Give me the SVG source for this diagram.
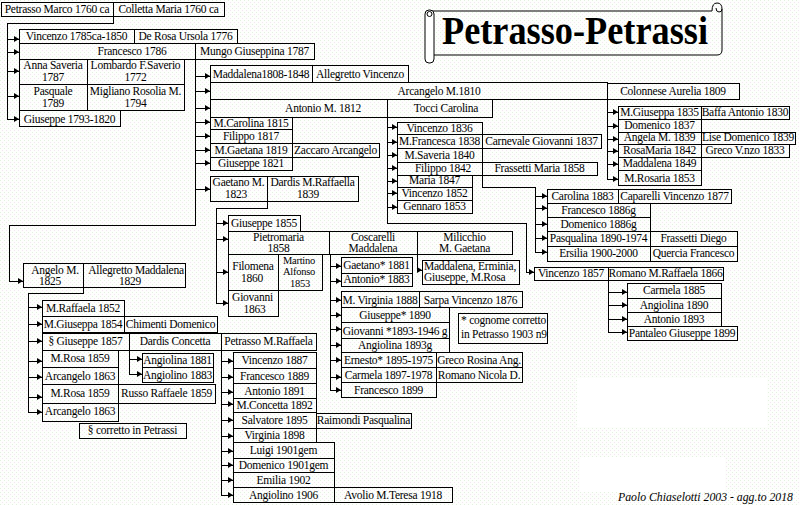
<svg xmlns="http://www.w3.org/2000/svg" width="800" height="505" viewBox="0 0 800 505">
<defs>
<style>
.b{fill:none;stroke:#000;stroke-width:1;shape-rendering:crispEdges}
.t{font-family:"Liberation Serif","Times New Roman",serif;font-size:11.5px;letter-spacing:-0.25px;text-anchor:middle;fill:#000}
.s{font-size:10.5px}
.l{text-anchor:start}
#connectors path{fill:none;stroke:#000;stroke-width:1;shape-rendering:crispEdges}
.a{marker-end:url(#ah)}
</style>
<pattern id="bg" width="4" height="4" patternUnits="userSpaceOnUse">
<rect width="4" height="4" fill="#fdfefc"/>
<rect x="0" y="0" width="1" height="1" fill="#e3f1df"/>
<rect x="2" y="2" width="1" height="1" fill="#f3e6f2"/>
</pattern>
<marker id="ah" markerWidth="6" markerHeight="6" refX="5" refY="3" orient="auto" markerUnits="userSpaceOnUse">
<path d="M0,0 L5,3 L0,6 z" fill="#000"/>
</marker>
</defs>
<rect width="800" height="505" fill="url(#bg)"/>
<rect x="577" y="378" width="190" height="49" fill="#fff"/>
<rect x="580" y="457" width="145" height="35" fill="#fff"/>

<g id="title">
<path d="M430,11 H712 M722,9 V50 Q722,55 717,55 H434" fill="none" stroke="#000"/>
<rect x="425" y="10" width="9" height="53" rx="4" fill="#fff" stroke="#000"/>
<circle cx="429.5" cy="14" r="2.5" fill="none" stroke="#000"/>
<path d="M712,11 Q712,3 717,3 Q722,3 722,9 Q722,12 719,12 Q716,12 716,8" fill="none" stroke="#000"/>
<text x="442" y="44" textLength="266" lengthAdjust="spacingAndGlyphs" style="font-family:'Liberation Serif',serif;font-size:40px;font-weight:bold">Petrasso-Petrassi</text>
</g>

<g id="connectors">
<path class="a" d="M113,16V23H7V119H19"/>
<path class="a" d="M7,39H19"/><path class="a" d="M7,52H19"/><path class="a" d="M7,71H19"/><path class="a" d="M7,96H19"/>
<path class="a" d="M195,59V225H9V281H23"/>
<path class="a" d="M195,76H210"/><path class="a" d="M195,91H210"/><path class="a" d="M195,108H210"/><path class="a" d="M195,122H210"/><path class="a" d="M195,136H210"/><path class="a" d="M195,150H210"/><path class="a" d="M195,163H210"/><path class="a" d="M195,189H210"/>
<path class="a" d="M607,99V179H618"/>
<path class="a" d="M607,112H618"/><path class="a" d="M607,126H618"/><path class="a" d="M607,139H618"/><path class="a" d="M607,151H618"/><path class="a" d="M607,164H618"/>
<path class="a" d="M387,117V223H526V272H534"/>
<path class="a" d="M387,127H397"/><path class="a" d="M387,142H397"/><path class="a" d="M387,155H397"/><path class="a" d="M387,168H397"/><path class="a" d="M387,181H397"/><path class="a" d="M387,193H397"/><path class="a" d="M387,207H397"/>
<path class="a" d="M482,175V187H535V252H547"/>
<path class="a" d="M535,196H547"/><path class="a" d="M535,208H547"/><path class="a" d="M535,224H547"/><path class="a" d="M535,238H547"/>
<path class="a" d="M608,280V332H627"/>
<path class="a" d="M608,292H627"/><path class="a" d="M608,305H627"/><path class="a" d="M608,319H627"/>
<path class="a" d="M267,201V208H216V303H228"/>
<path class="a" d="M216,223H228"/><path class="a" d="M216,239H228"/><path class="a" d="M216,272H228"/>
<path class="a" d="M330,254V390H341"/>
<path class="a" d="M330,266H341"/><path class="a" d="M330,281H341"/><path class="a" d="M330,300H341"/><path class="a" d="M330,315H341"/><path class="a" d="M330,329H341"/><path class="a" d="M330,345H341"/><path class="a" d="M330,360H341"/><path class="a" d="M330,377H341"/>
<path class="a" d="M417,254V270H422"/>
<path class="a" d="M83,287V293H28V412H42"/>
<path class="a" d="M28,307H42"/><path class="a" d="M28,324H42"/><path class="a" d="M28,341H42"/><path class="a" d="M28,361H42"/><path class="a" d="M28,377H42"/><path class="a" d="M28,397H42"/>
<path class="a" d="M129,350V374H142"/>
<path class="a" d="M129,359H142"/>
<path class="a" d="M221,350V495H233"/>
<path class="a" d="M221,361H233"/><path class="a" d="M221,377H233"/><path class="a" d="M221,392H233"/><path class="a" d="M221,404H233"/><path class="a" d="M221,420H233"/><path class="a" d="M221,436H233"/><path class="a" d="M221,451H233"/><path class="a" d="M221,465H233"/><path class="a" d="M221,480H233"/>
</g>

<g id="n-marco"><rect class="b" x="1" y="2" width="112" height="14"/><text class="t" x="57" y="13">Petrasso Marco 1760 ca</text></g>
<g id="n-colletta"><rect class="b" x="113" y="2" width="111" height="14"/><text class="t" x="168.5" y="13">Colletta Maria 1760 ca</text></g>
<g id="n-vincenzo1785"><rect class="b" x="19" y="29" width="115" height="14"/><text class="t" x="76.5" y="40">Vincenzo 1785ca-1850</text></g>
<g id="n-derosa"><rect class="b" x="134" y="29" width="103" height="14"/><text class="t" x="185.5" y="40">De Rosa Ursola 1776</text></g>
<g id="n-francesco1786"><rect class="b" x="19" y="43" width="176" height="16"/><text class="t" x="132" y="55">Francesco 1786</text></g>
<g id="n-mungo"><rect class="b" x="195" y="43" width="119" height="16"/><text class="t" x="254.5" y="55">Mungo Giuseppina 1787</text></g>
<g id="n-anna"><rect class="b" x="19" y="59" width="68" height="25"/><text class="t"><tspan x="53" y="69">Anna Saveria</tspan><tspan x="53" y="81">1787</tspan></text></g>
<g id="n-lombardo"><rect class="b" x="87" y="59" width="97" height="25"/><text class="t"><tspan x="135.5" y="69">Lombardo F.Saverio</tspan><tspan x="135.5" y="81">1772</tspan></text></g>
<g id="n-pasquale"><rect class="b" x="19" y="84" width="68" height="26"/><text class="t"><tspan x="53" y="95">Pasquale</tspan><tspan x="53" y="107">1789</tspan></text></g>
<g id="n-migliano"><rect class="b" x="87" y="84" width="97" height="26"/><text class="t"><tspan x="135.5" y="95">Migliano Rosolia M.</tspan><tspan x="135.5" y="107">1794</tspan></text></g>
<g id="n-giuseppe1793"><rect class="b" x="19" y="110" width="101" height="16"/><text class="t" x="69.5" y="123">Giuseppe 1793-1820</text></g>

<g id="n-maddalena1808"><rect class="b" x="210" y="65" width="102" height="17"/><text class="t" x="261" y="78">Maddalena1808-1848</text></g>
<g id="n-allegretto-v"><rect class="b" x="312" y="65" width="96" height="17"/><text class="t" x="360" y="78">Allegretto Vincenzo</text></g>
<g id="n-arcangelo1810"><rect class="b" x="210" y="82" width="397" height="17"/><text class="t" x="439" y="95">Arcangelo M.1810</text></g>
<g id="n-colonnese"><rect class="b" x="607" y="83" width="132" height="16"/><text class="t" x="673" y="95">Colonnese Aurelia 1809</text></g>
<g id="n-antonio1812"><rect class="b" x="210" y="99" width="177" height="18"/><text class="t" x="323" y="112">Antonio M. 1812</text></g>
<g id="n-tocci"><rect class="b" x="387" y="99" width="105" height="18"/><text class="t" x="446" y="112">Tocci Carolina</text></g>
<g id="n-mcarolina"><rect class="b" x="210" y="117" width="82" height="12"/><text class="t" x="251" y="127">M.Carolina 1815</text></g>
<g id="n-filippo1817"><rect class="b" x="210" y="129" width="82" height="14"/><text class="t" x="251" y="140">Filippo 1817</text></g>
<g id="n-mgaetana1819"><rect class="b" x="210" y="143" width="82" height="14"/><text class="t" x="251" y="154">M.Gaetana 1819</text></g>
<g id="n-zaccaro"><rect class="b" x="292" y="143" width="87" height="14"/><text class="t" x="335.5" y="154">Zaccaro Arcangelo</text></g>
<g id="n-giuseppe1821"><rect class="b" x="210" y="157" width="82" height="13"/><text class="t" x="251" y="167">Giuseppe 1821</text></g>
<g id="n-gaetano1823"><rect class="b" x="210" y="176" width="57" height="25"/><text class="t"><tspan x="238.5" y="186">Gaetano M.</tspan><tspan x="236" y="198">1823</tspan></text></g>
<g id="n-dardis-mr"><rect class="b" x="267" y="176" width="91" height="25"/><text class="t"><tspan x="312.5" y="186">Dardis M.Raffaella</tspan><tspan x="308" y="198">1839</tspan></text></g>

<g id="n-giuseppe1855"><rect class="b" x="228" y="215" width="72" height="16"/><text class="t" x="264" y="227">Giuseppe 1855</text></g>
<g id="n-pietromaria"><rect class="b" x="228" y="231" width="101" height="23"/><text class="t"><tspan x="278.5" y="241">Pietromaria</tspan><tspan x="278.5" y="252">1858</tspan></text></g>
<g id="n-coscarelli"><rect class="b" x="329" y="231" width="88" height="23"/><text class="t"><tspan x="373" y="241">Coscarelli</tspan><tspan x="373" y="252">Maddalena</tspan></text></g>
<g id="n-milicchio"><rect class="b" x="417" y="231" width="95" height="23"/><text class="t"><tspan x="464.5" y="241">Milicchio</tspan><tspan x="464.5" y="252">M. Gaetana</tspan></text></g>
<g id="n-filomena"><rect class="b" x="228" y="254" width="50" height="36"/><text class="t"><tspan x="253" y="270">Filomena</tspan><tspan x="252" y="282">1860</tspan></text></g>
<g id="n-martino"><rect class="b" x="278" y="254" width="44" height="36"/><text class="t s"><tspan x="299" y="264">Martino</tspan><tspan x="299" y="275">Alfonso</tspan><tspan x="300" y="287">1853</tspan></text></g>
<g id="n-giovanni1863"><rect class="b" x="228" y="290" width="50" height="26"/><text class="t"><tspan x="252.5" y="301">Giovanni</tspan><tspan x="254.5" y="313">1863</tspan></text></g>
<g id="n-gaetano1881"><rect class="b" x="341" y="257" width="71" height="16"/><text class="t" x="376.5" y="269">Gaetano* 1881</text></g>
<g id="n-antonio1883"><rect class="b" x="341" y="273" width="71" height="13"/><text class="t" x="376.5" y="283">Antonio* 1883</text></g>
<g id="n-maddalena-erminia"><rect class="b" x="422" y="260" width="97" height="24"/><text class="t l"><tspan x="424" y="270">Maddalena, Erminia,</tspan><tspan x="424" y="281">Giuseppe, M.Rosa</tspan></text></g>
<g id="n-mvirginia"><rect class="b" x="341" y="291" width="78" height="16"/><text class="t" x="380" y="304">M. Virginia 1888</text></g>
<g id="n-sarpa"><rect class="b" x="419" y="291" width="103" height="16"/><text class="t" x="470.5" y="304">Sarpa Vincenzo 1876</text></g>
<g id="n-giuseppe1890"><rect class="b" x="341" y="307" width="108" height="15"/><text class="t" x="395" y="319">Giuseppe* 1890</text></g>
<g id="n-giovanni1893"><rect class="b" x="341" y="322" width="108" height="16"/><text class="t" x="395" y="335">Giovanni *1893-1946 g</text></g>
<g id="n-angiolina1893"><rect class="b" x="341" y="338" width="108" height="14"/><text class="t" x="395" y="349">Angiolina 1893g</text></g>
<g id="n-ernesto"><rect class="b" x="341" y="352" width="95" height="15"/><text class="t" x="388.5" y="364">Ernesto* 1895-1975</text></g>
<g id="n-greco-rosina"><rect class="b" x="436" y="352" width="86" height="15"/><text class="t" x="479" y="364">Greco Rosina Ang.</text></g>
<g id="n-carmela1897"><rect class="b" x="341" y="367" width="95" height="15"/><text class="t" x="388.5" y="379">Carmela 1897-1978</text></g>
<g id="n-romano-nicola"><rect class="b" x="436" y="367" width="86" height="15"/><text class="t" x="479" y="379">Romano Nicola D.</text></g>
<g id="n-francesco1899"><rect class="b" x="341" y="382" width="95" height="15"/><text class="t" x="388.5" y="394">Francesco 1899</text></g>
<g id="n-note-cognome"><rect class="b" x="458" y="313" width="89" height="30"/><text class="t l"><tspan x="461" y="324">* cognome corretto</tspan><tspan x="461" y="338">in Petrasso 1903 n9</tspan></text></g>

<g id="n-angelo"><rect class="b" x="23" y="263" width="60" height="24"/><text class="t"><tspan x="55" y="274">Angelo M.</tspan><tspan x="50" y="285">1825</tspan></text></g>
<g id="n-allegretto-m"><rect class="b" x="83" y="263" width="102" height="24"/><text class="t"><tspan x="136" y="274">Allegretto Maddalena</tspan><tspan x="130" y="285">1829</tspan></text></g>
<g id="n-mraffaela1852"><rect class="b" x="42" y="300" width="82" height="16"/><text class="t" x="83" y="312">M.Raffaela 1852</text></g>
<g id="n-mgiuseppa1854"><rect class="b" x="42" y="316" width="82" height="16"/><text class="t" x="83" y="328">M.Giuseppa 1854</text></g>
<g id="n-chimenti"><rect class="b" x="124" y="316" width="93" height="16"/><text class="t" x="170.5" y="328">Chimenti Domenico</text></g>
<g id="n-giuseppe1857"><rect class="b" x="42" y="333" width="87" height="17"/><text class="t" x="85.5" y="345">§ Giuseppe 1857</text></g>
<g id="n-dardis-c"><rect class="b" x="129" y="333" width="92" height="17"/><text class="t" x="175" y="345">Dardis Concetta</text></g>
<g id="n-petrasso-mr"><rect class="b" x="221" y="333" width="95" height="17"/><text class="t" x="268.5" y="345">Petrasso M.Raffaela</text></g>
<g id="n-mrosa1859a"><rect class="b" x="42" y="350" width="76" height="17"/><text class="t" x="80" y="362">M.Rosa 1859</text></g>
<g id="n-arcangelo1863a"><rect class="b" x="42" y="367" width="76" height="17"/><text class="t" x="80" y="380">Arcangelo 1863</text></g>
<g id="n-mrosa1859b"><rect class="b" x="42" y="384" width="76" height="19"/><text class="t" x="80" y="397">M.Rosa 1859</text></g>
<g id="n-russo"><rect class="b" x="118" y="384" width="97" height="19"/><text class="t" x="166.5" y="397">Russo Raffaele 1859</text></g>
<g id="n-arcangelo1863b"><rect class="b" x="42" y="403" width="76" height="18"/><text class="t" x="80" y="415">Arcangelo 1863</text></g>
<g id="n-note-corretto"><rect class="b" x="79" y="423" width="107" height="15"/><text class="t" x="132.5" y="434">§ corretto in Petrassi</text></g>
<g id="n-angiolina1881"><rect class="b" x="142" y="353" width="71" height="14"/><text class="t" x="177.5" y="364">Angiolina 1881</text></g>
<g id="n-angiolino1883"><rect class="b" x="142" y="367" width="71" height="15"/><text class="t" x="177.5" y="379">Angiolino 1883</text></g>
<g id="n-vincenzo1887"><rect class="b" x="233" y="352" width="83" height="16"/><text class="t" x="274.5" y="364">Vincenzo 1887</text></g>
<g id="n-francesco1889"><rect class="b" x="233" y="368" width="83" height="15"/><text class="t" x="274.5" y="380">Francesco 1889</text></g>
<g id="n-antonio1891"><rect class="b" x="233" y="383" width="83" height="15"/><text class="t" x="274.5" y="395">Antonio 1891</text></g>
<g id="n-mconcetta"><rect class="b" x="233" y="398" width="83" height="14"/><text class="t" x="274.5" y="409">M.Concetta 1892</text></g>
<g id="n-salvatore"><rect class="b" x="233" y="412" width="83" height="16"/><text class="t" x="274.5" y="424">Salvatore 1895</text></g>
<g id="n-raimondi"><rect class="b" x="316" y="413" width="95" height="15"/><text class="t" x="363.5" y="424">Raimondi Pasqualina</text></g>
<g id="n-virginia"><rect class="b" x="233" y="428" width="83" height="14"/><text class="t" x="274.5" y="439">Virginia 1898</text></g>
<g id="n-luigi"><rect class="b" x="233" y="442" width="101" height="16"/><text class="t" x="283.5" y="454">Luigi 1901gem</text></g>
<g id="n-domenico1901"><rect class="b" x="233" y="458" width="101" height="14"/><text class="t" x="283.5" y="469">Domenico 1901gem</text></g>
<g id="n-emilia"><rect class="b" x="233" y="472" width="101" height="15"/><text class="t" x="283.5" y="484">Emilia 1902</text></g>
<g id="n-angiolino1906"><rect class="b" x="233" y="487" width="101" height="15"/><text class="t" x="283.5" y="499">Angiolino 1906</text></g>
<g id="n-avolio"><rect class="b" x="334" y="487" width="118" height="15"/><text class="t" x="393" y="499">Avolio M.Teresa 1918</text></g>

<g id="n-mgiuseppa1835"><rect class="b" x="618" y="106" width="83" height="13"/><text class="t" x="659.5" y="116">M.Giuseppa 1835</text></g>
<g id="n-baffa"><rect class="b" x="701" y="106" width="88" height="13"/><text class="t" x="745" y="116">Baffa Antonio 1830</text></g>
<g id="n-domenico1837"><rect class="b" x="618" y="119" width="83" height="13"/><text class="t" x="659.5" y="129">Domenico 1837</text></g>
<g id="n-angela"><rect class="b" x="618" y="132" width="83" height="12"/><text class="t" x="659.5" y="141">Angela M. 1839</text></g>
<g id="n-lise"><rect class="b" x="701" y="132" width="94" height="12"/><text class="t" x="748" y="141">Lise Domenico 1839</text></g>
<g id="n-rosamaria"><rect class="b" x="618" y="144" width="83" height="13"/><text class="t" x="659.5" y="154">RosaMaria 1842</text></g>
<g id="n-greco-vnzo"><rect class="b" x="701" y="144" width="88" height="13"/><text class="t" x="745" y="154">Greco V.nzo 1833</text></g>
<g id="n-maddalena1849"><rect class="b" x="618" y="157" width="83" height="13"/><text class="t" x="659.5" y="167">Maddalena 1849</text></g>
<g id="n-mrosaria"><rect class="b" x="618" y="170" width="83" height="15"/><text class="t" x="659.5" y="182">M.Rosaria 1853</text></g>

<g id="n-vincenzo1836"><rect class="b" x="397" y="122" width="85" height="12"/><text class="t" x="439.5" y="132">Vincenzo 1836</text></g>
<g id="n-mfrancesca"><rect class="b" x="397" y="134" width="85" height="14"/><text class="t" x="439.5" y="145">M.Francesca 1838</text></g>
<g id="n-carnevale"><rect class="b" x="482" y="134" width="119" height="14"/><text class="t" x="541.5" y="145">Carnevale Giovanni 1837</text></g>
<g id="n-msaveria"><rect class="b" x="397" y="148" width="85" height="14"/><text class="t" x="439.5" y="159">M.Saveria 1840</text></g>
<g id="n-filippo1842"><rect class="b" x="397" y="162" width="85" height="13"/><text class="t" x="443" y="172">Filippo 1842</text></g>
<g id="n-frassetti-m"><rect class="b" x="482" y="162" width="115" height="13"/><text class="t" x="539.5" y="172">Frassetti Maria 1858</text></g>
<g id="n-maria1847"><rect class="b" x="397" y="175" width="75" height="12"/><text class="t" x="434.5" y="184">Maria 1847</text></g>
<g id="n-vincenzo1852"><rect class="b" x="397" y="187" width="75" height="13"/><text class="t" x="434.5" y="197">Vincenzo 1852</text></g>
<g id="n-gennaro"><rect class="b" x="397" y="200" width="75" height="13"/><text class="t" x="434.5" y="210">Gennaro 1853</text></g>

<g id="n-carolina1883"><rect class="b" x="547" y="189" width="71" height="14"/><text class="t" x="582.5" y="200">Carolina 1883</text></g>
<g id="n-caparelli"><rect class="b" x="618" y="189" width="113" height="14"/><text class="t" x="674.5" y="200">Caparelli Vincenzo 1877</text></g>
<g id="n-francesco1886"><rect class="b" x="547" y="203" width="103" height="14"/><text class="t" x="598.5" y="214">Francesco 1886g</text></g>
<g id="n-domenico1886"><rect class="b" x="547" y="217" width="103" height="14"/><text class="t" x="598.5" y="228">Domenico 1886g</text></g>
<g id="n-pasqualina"><rect class="b" x="547" y="231" width="103" height="15"/><text class="t" x="598.5" y="242">Pasqualina 1890-1974</text></g>
<g id="n-frassetti-d"><rect class="b" x="650" y="231" width="87" height="15"/><text class="t" x="693.5" y="242">Frassetti Diego</text></g>
<g id="n-ersilia"><rect class="b" x="547" y="246" width="103" height="15"/><text class="t" x="598.5" y="257">Ersilia 1900-2000</text></g>
<g id="n-quercia"><rect class="b" x="650" y="246" width="87" height="15"/><text class="t" x="693.5" y="257">Quercia Francesco</text></g>
<g id="n-vincenzo1857"><rect class="b" x="534" y="267" width="74" height="13"/><text class="t" x="571" y="277">Vincenzo 1857</text></g>
<g id="n-romano-mr"><rect class="b" x="608" y="267" width="115" height="13"/><text class="t" x="665.5" y="277">Romano M.Raffaela 1866</text></g>
<g id="n-carmela1885"><rect class="b" x="627" y="283" width="94" height="15"/><text class="t" x="674" y="294">Carmela 1885</text></g>
<g id="n-angiolina1890"><rect class="b" x="627" y="298" width="94" height="14"/><text class="t" x="674" y="309">Angiolina 1890</text></g>
<g id="n-antonio1893"><rect class="b" x="627" y="312" width="94" height="14"/><text class="t" x="674" y="323">Antonio 1893</text></g>
<g id="n-pantaleo"><rect class="b" x="627" y="326" width="110" height="14"/><text class="t" x="682" y="337">Pantaleo Giuseppe 1899</text></g>

<text x="618" y="501" textLength="175" lengthAdjust="spacingAndGlyphs" style="font-family:'Liberation Serif',serif;font-size:12px;font-style:italic">Paolo Chiaselotti 2003 - agg.to 2018</text>
</svg>
